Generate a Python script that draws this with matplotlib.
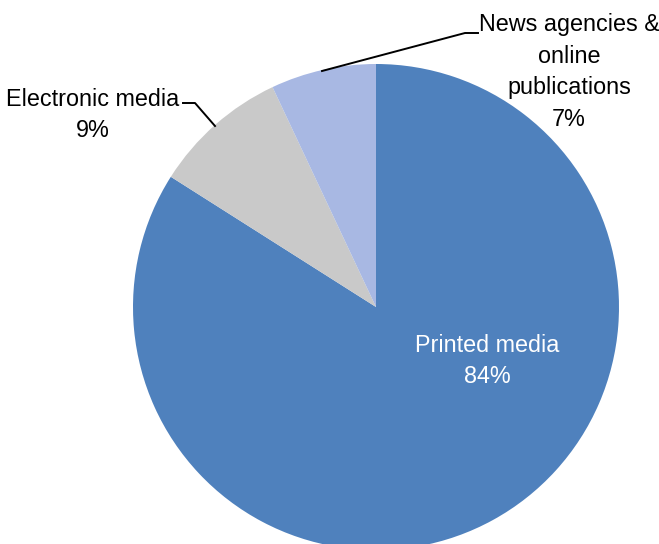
import matplotlib.pyplot as plt

labels = ["Printed media", "Electronic media", "News agencies &\nonline\npublications"]
shares = [84, 9, 7]
colors = ["#4F81BD", "#C9C9C9", "#A8B8E3"]

plt.rcParams["font.family"] = ["Liberation Sans", "DejaVu Sans"]

W, H = 659, 544
cx, cy, R = 376, 307, 243  # pie centre and radius in pixels

fig = plt.figure(figsize=(W / 100, H / 100), dpi=100)
ax = fig.add_axes([0, 0, 1, 1])

ax.pie(shares, colors=colors, startangle=90, counterclock=False,
       radius=1, wedgeprops=dict(linewidth=0))

# pie() resets the limits, so fix them afterwards
ax.set_xlim(-cx / R, (W - cx) / R)
ax.set_ylim(-(H - cy) / R, cy / R)
ax.set_aspect("equal")
ax.axis("off")


def px(x, y):
    # pixel position (top-left origin) -> data coords
    return (x - cx) / R, (cy - y) / R


fs = 16.8
ls = 1.48

# Printed media label inside the slice
ax.text(*px(487, 361), f"{labels[0]}\n{shares[0]}%", color="white",
        fontsize=fs, ha="center", va="center", linespacing=ls)

# Electronic media label with leader line
ax.text(*px(93, 115), f"{labels[1]}\n{shares[1]}%", color="black",
        fontsize=fs, ha="center", va="center", linespacing=ls)
xs, ys = zip(px(183, 103), px(195, 103), px(215, 126))
ax.plot(xs, ys, color="black", lw=1.4)

# News agencies label with leader line
ax.text(*px(569, 72), f"{labels[2]}\n{shares[2]}%", color="black",
        fontsize=fs, ha="center", va="center", linespacing=ls)
xs, ys = zip(px(322, 71), px(465, 33), px(478, 33))
ax.plot(xs, ys, color="black", lw=1.4)

fig.savefig("out.png", dpi=100)
